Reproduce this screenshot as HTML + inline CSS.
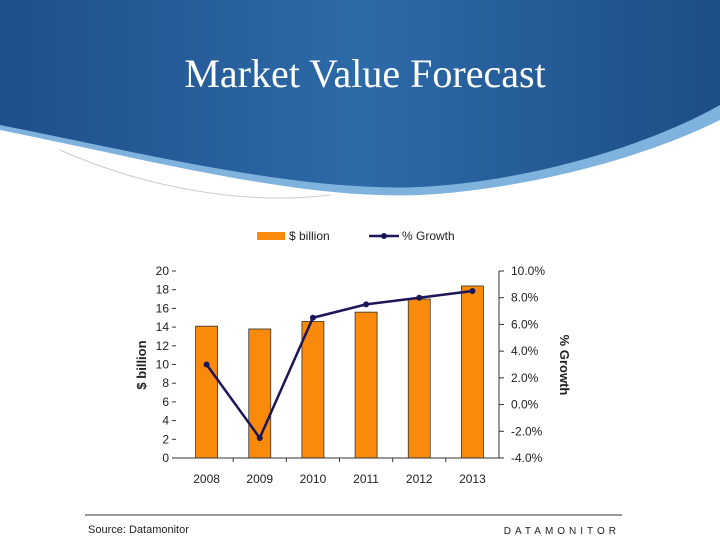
<!DOCTYPE html>
<html><head><meta charset="utf-8"><style>
body{margin:0;width:720px;height:540px;overflow:hidden;background:#fff;font-family:"Liberation Sans",sans-serif}
svg{display:block}
</style></head><body>
<svg width="720" height="540">
<defs>
<linearGradient id="bg" x1="0" y1="0" x2="1" y2="0">
<stop offset="0" stop-color="#1f4f8a"/><stop offset="0.5" stop-color="#2d6aa8"/><stop offset="1" stop-color="#1d4d86"/>
</linearGradient>
</defs>
<g>
<path d="M0,0H720V120C640,160 520,190 420,195C300,200 150,160 0,130Z" fill="#7fb3de"/>
<path d="M0,0H720V105C640,150 520,182 420,187C300,192 150,155 0,125Z" fill="url(#bg)"/>
<path d="M60,150C150,190 250,205 330,195" fill="none" stroke="#ccc" stroke-width="1"/>
<text x="365" y="87" text-anchor="middle" font-family="Liberation Serif" font-size="40" fill="#fff">Market Value Forecast</text>
</g>
<g id="chart"></g>
<line x1="85" y1="515" x2="622" y2="515" stroke="#333" stroke-width="1"/>
<text x="88" y="533" font-size="11" fill="#222">Source: Datamonitor</text>
<text x="620" y="534" text-anchor="end" font-size="10" letter-spacing="4" fill="#222">DATAMONITOR</text>
</svg>
<script>
const categories=["2008","2009","2010","2011","2012","2013"];
const billions=[14.1,13.8,14.6,15.6,17.0,18.4];
const growth=[3.0,-2.5,6.5,7.5,8.0,8.5];
const leftTicks=[0,2,4,6,8,10,12,14,16,18,20];
const rightTicks=[-4,-2,0,2,4,6,8,10];
const NS="http://www.w3.org/2000/svg";
const g=document.getElementById('chart');
const X0=180,X1=499,Y0=458,Y1=271;
const bw=(X1-X0)/categories.length;
const xc=i=>X0+bw*(i+0.5);
const yL=v=>Y0-(v-0)/(20-0)*(Y0-Y1);
const yR=v=>Y0-(v+4)/(14)*(Y0-Y1);
function el(t,a,txt){const e=document.createElementNS(NS,t);for(const k in a)e.setAttribute(k,a[k]);if(txt!=null)e.textContent=txt;g.appendChild(e);return e;}
billions.forEach((v,i)=>{
const r=el('rect',{x:xc(i)-11,y:yL(v),width:22,height:Y0-yL(v),fill:'#f98a0c',stroke:'#333','stroke-width':0.8});


const t=el('text',{x:xc(i),y:483,'text-anchor':'middle','font-size':12,fill:'#222'},categories[i]);


});
let ax=el('path',{d:`M${X0-4},${Y0}H${X1}M${X1},${Y0}V${Y1}`,stroke:'#333',fill:'none','stroke-width':1});


for(let i=1;i<categories.length;i++){el('line',{x1:X0+bw*i,x2:X0+bw*i,y1:Y0,y2:Y0+4,stroke:'#333'});}
leftTicks.forEach(v=>{
el('line',{x1:X0-4,x2:X0-8,y1:yL(v),y2:yL(v),stroke:'#333'});
const t=el('text',{x:X0-11,y:yL(v)+4,'text-anchor':'end','font-size':12,fill:'#222'},v);


});
rightTicks.forEach(v=>{
el('line',{x1:X1,x2:X1+5,y1:yR(v),y2:yR(v),stroke:'#333'});
const t=el('text',{x:X1+12,y:yR(v)+4,'font-size':12,fill:'#222'},v.toFixed(1)+'%');


});
const pl=el('polyline',{points:growth.map((v,i)=>xc(i)+','+yR(v)).join(' '),fill:'none',stroke:'#1b1658','stroke-width':2.5});


growth.forEach((v,i)=>{const c=el('circle',{cx:xc(i),cy:yR(v),r:3,fill:'#1b1658'});

});
let t=el('text',{transform:'translate(146,365) rotate(-90)','text-anchor':'middle','font-size':13,'font-weight':'bold',fill:'#222'},'$ billion');


t=el('text',{transform:'translate(560,365) rotate(90)','text-anchor':'middle','font-size':13,'font-weight':'bold',fill:'#222'},'% Growth');


let lg=el('rect',{x:257,y:232,width:28,height:8,fill:'#f98a0c'});


t=el('text',{x:289,y:240,'font-size':12,fill:'#222'},'$ billion');


el('line',{x1:369,x2:399,y1:236,y2:236,stroke:'#1b1658','stroke-width':2.5});
el('circle',{cx:384,cy:236,r:3,fill:'#1b1658'});
t=el('text',{x:402,y:240,'font-size':12,fill:'#222'},'% Growth');


</script>
</body></html>
